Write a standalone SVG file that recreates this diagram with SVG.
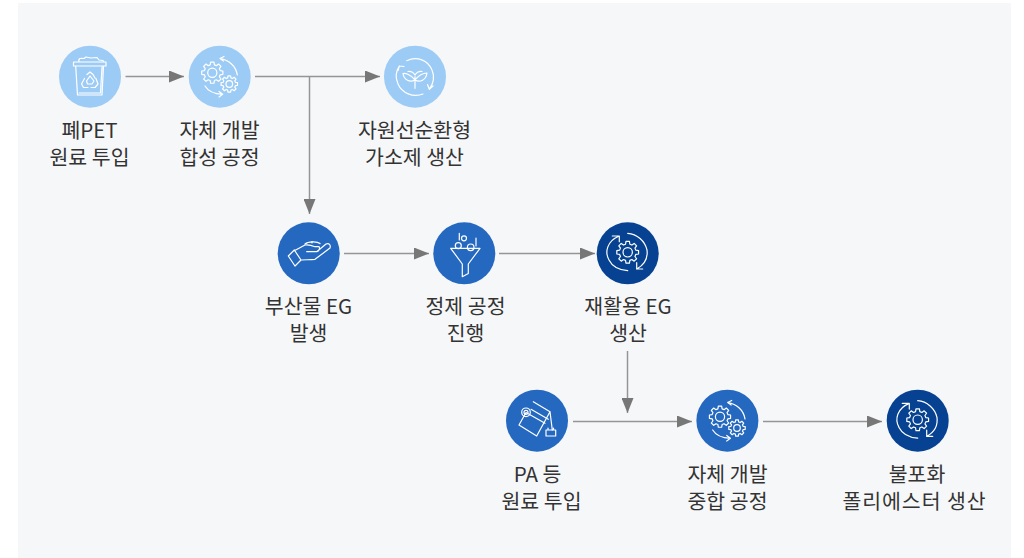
<svg xmlns="http://www.w3.org/2000/svg" width="1024" height="558" viewBox="0 0 1024 558">
<defs>
<marker id="arrow" viewBox="0 0 15 12" refX="15" refY="6" markerWidth="15" markerHeight="12" markerUnits="userSpaceOnUse" orient="auto"><path d="M0 0L15 6L0 12Z" fill="#777"/></marker>
<path id="gear" vector-effect="non-scaling-stroke" d="M7.34-1.97L9.88-1.56L9.88 1.56L7.34 1.97L6.58 3.8L8.09 5.88L5.88 8.09L3.8 6.58L1.97 7.34L1.56 9.88L-1.56 9.88L-1.97 7.34L-3.8 6.58L-5.88 8.09L-8.09 5.88L-6.58 3.8L-7.34 1.97L-9.88 1.56L-9.88-1.56L-7.34-1.97L-6.58-3.8L-8.09-5.88L-5.88-8.09L-3.8-6.58L-1.97-7.34L-1.56-9.88L1.56-9.88L1.97-7.34L3.8-6.58L5.88-8.09L8.09-5.88L6.58-3.8Z"/>
<g id="gears-icon" class="i">
<use href="#gear" transform="translate(212.300 72.700) scale(1.070)"/><circle cx="212.300" cy="72.700" r="4.600"/>
<use href="#gear" transform="translate(229.300 84) scale(.83)"/><circle cx="229.300" cy="84" r="3.300"/>
<path d="M220 58.500C229 60 236 66 237.300 75M220 58.500L224 56.500M220 58.500L223.500 61M205 86C208 91 214 94 222.700 94.300M222.700 94.300L219 91.500M222.700 94.300L219 97"/>
</g>
<g id="cycle-icon" class="i">
<use href="#gear" transform="translate(627.700 252.300) scale(1.100)"/><circle cx="627.700" cy="252.300" r="4.700"/>
<path d="M619.300 236C607 241 604.500 252 609 260C612 266 619 270 627.700 270.700M612.300 236H619.300V241.700M627.700 233.300C637 234 645 241 647 250C648 258 644 265 636.700 269M636.700 262.700V269H642.700"/>
</g>
</defs>
<style>
text{font-family:"Noto Sans CJK KR","Noto Sans",sans-serif;font-size:20.500px;fill:#333;text-anchor:middle}
.c{stroke:#959595;stroke-width:1.500;fill:none;marker-end:url(#arrow)}
.i,.i use{fill:none;stroke:#fff;stroke-width:1.200;stroke-linejoin:round;stroke-linecap:round}
.l{fill:#9ccbf6}.m{fill:#2468c0}.d{fill:#064291}
</style>
<rect x="18" y="3" width="993" height="555" fill="#f6f7f9"/>
<g id="connectors">
<path class="c" d="M125.500 76.500H184"/>
<path class="c" d="M255 76.500H380"/>
<path class="c" d="M309.500 76.500V214"/>
<path class="c" d="M344 253.500H429"/>
<path class="c" d="M499 253.500H595"/>
<path class="c" d="M627.500 351V413"/>
<path class="c" d="M573 421.500H692"/>
<path class="c" d="M763 421.500H882"/>
</g>
<g id="n1"><circle class="l" cx="90" cy="76.700" r="31"/><g class="i"><path d="M73.500 62H106V66H73.500ZM75.700 66L77.500 95H102L103.500 66M79 93H100.500L102 67M79 62C78 58 81 58 84 58.500L86 57L91 58L97 57.500L99 60L103 60.500L104 62"/><path d="M87 74.500L90 72L93 74.500L95 78M96 78.500L98 84L95 87.500L91 87.500M88 87.500H83.500L81.500 84L84.500 78.500"/><path d="M86.500 81L90 76L94 81L92 84H87.500Z"/></g><text><tspan x="89.500" y="138">폐PET</tspan><tspan x="89.500" y="165">원료 투입</tspan></text></g>
<g id="n2"><circle class="l" cx="219.700" cy="76.700" r="31"/><use href="#gears-icon"/><text><tspan x="219.500" y="138">자체 개발</tspan><tspan x="219.500" y="165">합성 공정</tspan></text></g>
<g id="n3"><circle class="l" cx="415" cy="76.700" r="31"/><g class="i"><path d="M406.700 60.700C417 56 428 60 432 70C435 77 433 84 429.300 89.300M429.300 89.300L427.500 84.500M429.300 89.300L433 86M423 94C413 98 402 93 398 84C395 77 396 71 399.300 66M399.300 66L398 70.500M399.300 66L404 66.500"/><path d="M415 88.300V76.700M415 80C410 74 405 73 403 73.500C404 80 410 83 415 80C420 83 426 80 427 73C423 73 419 75 415 80M415 75C413 72 411 71 408 71.500M415 75C417 72 419 71 422 71.500"/></g><text><tspan x="414.500" y="138">자원선순환형</tspan><tspan x="414.500" y="165">가소제 생산</tspan></text></g>
<g id="n4"><circle class="m" cx="308.700" cy="253.300" r="31"/><g class="i"><path d="M288.300 256L294.300 250L301 260L295 266ZM294.300 250.700L305 245C308 244.500 312 245.500 315 246.700H319C320 248 319.500 251.700 316.700 251.700H306.700M316.700 251.700L326 244C329 242.500 331 245 330 248L315 259.300C310 260 305 259.500 301.700 260"/><path d="M305 244C308 241.500 317 241 320 243.500M312 241.500V243"/></g><text><tspan x="308.500" y="314">부산물 EG</tspan><tspan x="308.500" y="341">발생</tspan></text></g>
<g id="n5"><circle class="m" cx="464.300" cy="253.300" r="31"/><g class="i"><path d="M450.700 248.300H480L468.300 264V273.500L462.300 276.700V264ZM459.300 233.300V240M476 238V246"/><circle cx="464" cy="238.300" r="2.500"/><circle cx="458.300" cy="245.700" r="3"/><circle cx="470.700" cy="247.300" r="3.300"/></g><text><tspan x="465.500" y="314">정제 공정</tspan><tspan x="465.500" y="341">진행</tspan></text></g>
<g id="n6"><circle class="d" cx="627.700" cy="253.300" r="31"/><use href="#cycle-icon"/><text><tspan x="628" y="314">재활용 EG</tspan><tspan x="628" y="341">생산</tspan></text></g>
<g id="n7"><circle class="m" cx="537" cy="420.700" r="31"/><g class="i"><path d="M533.300 401.700L550 411.700L536.700 436L519 425L526 412.500M531 409.300L548.300 419.300M526 412.500L545 423.300M550 411.700L552.300 430"/><circle cx="526" cy="412.300" r="4.300"/><circle cx="526" cy="412.300" r="2"/><path d="M546 430H555.700V436H546ZM548 430V428M553.500 430V428"/></g><text><tspan x="537.500" y="482">PA 등</tspan><tspan x="541.500" y="509">원료 투입</tspan></text></g>
<g id="n8"><circle class="m" cx="727.400" cy="420.700" r="31"/><use href="#gears-icon" transform="translate(507.700 344)"/><text><tspan x="727.500" y="482">자체 개발</tspan><tspan x="727.500" y="509">중합 공정</tspan></text></g>
<g id="n9"><circle class="d" cx="917.700" cy="420.700" r="31"/><use href="#cycle-icon" transform="translate(290 167.400)"/><text><tspan x="917" y="482">불포화</tspan><tspan x="914.500" y="509" letter-spacing=".9">폴리에스터 생산</tspan></text></g>
</svg>
